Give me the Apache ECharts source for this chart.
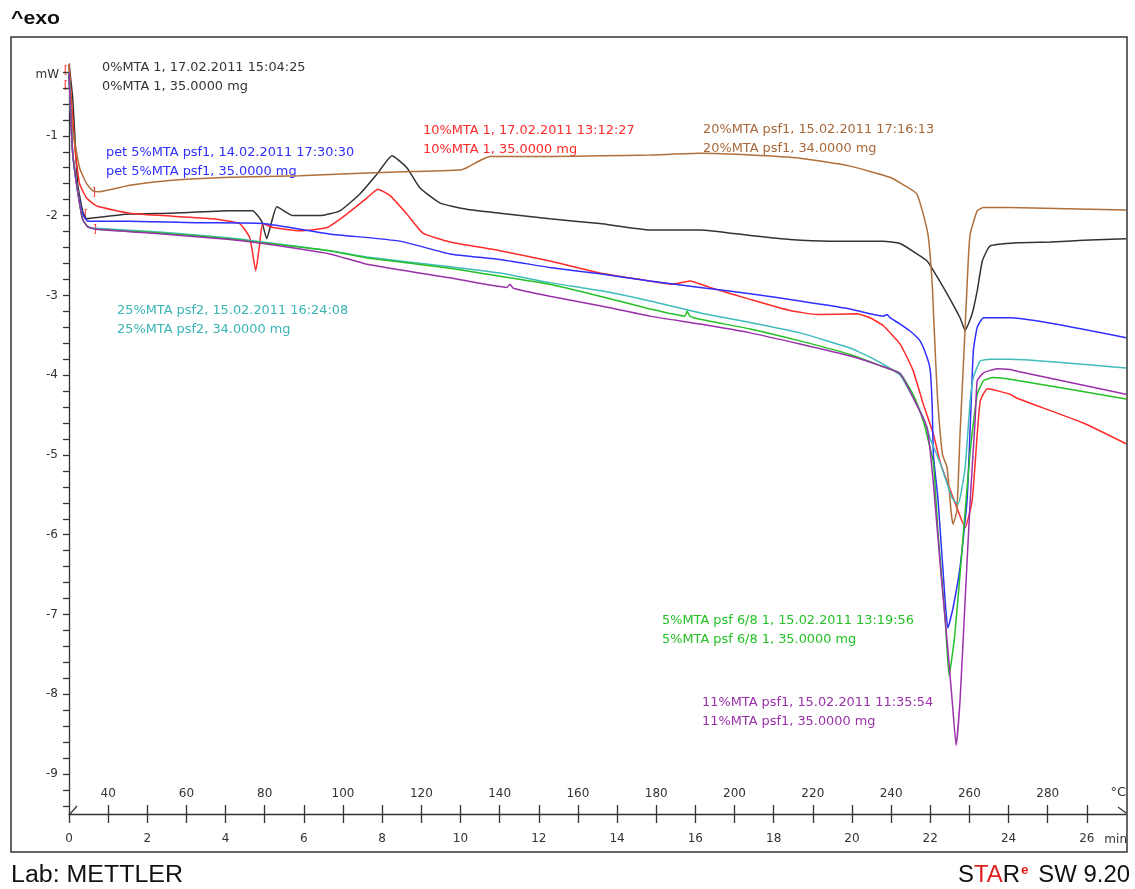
<!DOCTYPE html>
<html><head><meta charset="utf-8">
<script src="https://cdn.jsdelivr.net/npm/echarts@6/dist/echarts.min.js"></script>
<style>html,body{margin:0;padding:0;background:#fff}#c{width:1135px;height:889px}</style>
</head><body><div id="c"></div><script>
// ---- data: [time (min), heat flow (mW)] ----
const black0 = [[0,-0.1],[0.09,-0.5],[0.15,-1.0],[0.22,-1.6],[0.35,-1.95],[0.45,-2.04],[0.6,-2.03],[1.55,-1.98],[2.57,-1.97],[4.11,-1.94],[4.69,-1.94],[4.92,-2.07],[5.05,-2.29],[5.18,-2.07],[5.31,-1.89],[5.72,-2.0],[6.41,-2.0],[6.92,-1.94],[7.43,-1.73],[7.87,-1.48],[8.25,-1.25],[8.63,-1.40],[8.96,-1.65],[9.47,-1.84],[10.16,-1.92],[11.01,-1.97],[12.28,-2.04],[13.56,-2.10],[14.84,-2.18],[16.12,-2.18],[17.40,-2.25],[18.42,-2.30],[19.44,-2.32],[20.80,-2.32],[21.23,-2.35],[21.66,-2.48],[21.92,-2.57],[22.08,-2.69],[22.43,-2.98],[22.76,-3.28],[22.89,-3.44],[23.07,-3.23],[23.20,-2.94],[23.33,-2.57],[23.53,-2.38],[24.22,-2.34],[25.07,-2.33],[25.91,-2.31],[27,-2.29]];
const red10 = [[0,-0.1],[0.15,-1.15],[0.27,-1.6],[0.45,-1.78],[0.71,-1.88],[1.55,-1.97],[2.39,-2.0],[3.67,-2.04],[4.36,-2.10],[4.62,-2.28],[4.77,-2.69],[4.87,-2.36],[4.95,-2.10],[5.21,-2.15],[5.90,-2.19],[6.59,-2.15],[7.10,-1.98],[7.61,-1.78],[7.89,-1.67],[8.20,-1.75],[8.63,-1.98],[9.04,-2.22],[9.73,-2.33],[11.01,-2.44],[12.28,-2.57],[13.56,-2.72],[14.84,-2.82],[15.43,-2.86],[15.86,-2.82],[16.37,-2.90],[17.40,-3.05],[18.42,-3.19],[19.11,-3.24],[20.13,-3.23],[20.46,-3.28],[20.80,-3.38],[21.23,-3.61],[21.56,-3.94],[21.82,-4.36],[22.08,-4.74],[22.26,-5.10],[22.68,-5.66],[22.89,-5.91],[23.07,-5.57],[23.20,-4.74],[23.28,-4.32],[23.46,-4.17],[24.04,-4.24],[24.22,-4.29],[25.91,-4.60],[27,-4.86]];
const blue5 = [[0,-0.2],[0.09,-1.19],[0.22,-1.69],[0.35,-1.98],[0.48,-2.07],[1.55,-2.07],[3.34,-2.09],[4.95,-2.10],[6.66,-2.23],[8.45,-2.32],[9.73,-2.48],[11.01,-2.55],[12.28,-2.65],[13.56,-2.73],[14.84,-2.82],[16.12,-2.90],[17.40,-2.98],[18.67,-3.07],[19.95,-3.17],[20.80,-3.26],[20.90,-3.24],[20.97,-3.28],[21.23,-3.36],[21.49,-3.45],[21.74,-3.57],[21.92,-3.78],[22.0,-3.94],[22.05,-4.40],[22.08,-5.0],[22.20,-5.57],[22.38,-6.83],[22.45,-7.17],[22.58,-6.92],[22.76,-6.41],[22.94,-5.57],[23.02,-4.66],[23.10,-3.70],[23.20,-3.40],[23.36,-3.28],[24.04,-3.28],[27,-3.53]];
const green5 = [[0,-0.2],[0.09,-1.19],[0.22,-1.69],[0.35,-2.05],[0.48,-2.14],[0.71,-2.17],[2.39,-2.22],[4.11,-2.29],[4.95,-2.34],[6.66,-2.44],[7.61,-2.53],[9.73,-2.66],[11.01,-2.76],[12.28,-2.86],[13.56,-3.01],[14.84,-3.17],[15.73,-3.26],[15.79,-3.20],[15.86,-3.26],[16.12,-3.30],[17.40,-3.42],[18.67,-3.57],[19.95,-3.74],[20.72,-3.88],[21.23,-3.98],[21.56,-4.24],[21.82,-4.57],[21.94,-4.80],[22.08,-5.10],[22.20,-5.99],[22.38,-7.04],[22.48,-7.77],[22.63,-7.24],[22.81,-6.20],[23.02,-4.95],[23.20,-4.24],[23.36,-4.07],[23.61,-4.03],[24.04,-4.05],[27,-4.30]];
const cyan25 = [[0,-0.2],[0.09,-1.19],[0.22,-1.69],[0.35,-2.05],[0.48,-2.14],[0.71,-2.16],[2.39,-2.21],[4.11,-2.28],[4.95,-2.33],[6.66,-2.44],[7.61,-2.52],[9.73,-2.64],[11.01,-2.72],[12.28,-2.84],[13.56,-2.94],[14.84,-3.07],[16.12,-3.22],[17.40,-3.34],[18.67,-3.47],[19.95,-3.66],[20.64,-3.82],[21.23,-4.0],[21.56,-4.28],[21.82,-4.53],[22.0,-4.80],[22.26,-5.11],[22.56,-5.54],[22.71,-5.62],[22.89,-5.16],[23.02,-4.32],[23.10,-4.03],[23.28,-3.82],[23.53,-3.80],[24.04,-3.80],[27,-3.91]];
const purple11 = [[0,-0.2],[0.09,-1.19],[0.22,-1.69],[0.35,-2.05],[0.48,-2.14],[0.71,-2.17],[2.39,-2.23],[4.11,-2.30],[4.95,-2.35],[6.66,-2.48],[7.61,-2.61],[9.73,-2.78],[11.19,-2.90],[11.26,-2.86],[11.35,-2.91],[12.28,-3.01],[13.56,-3.13],[14.84,-3.26],[16.12,-3.36],[17.40,-3.47],[18.67,-3.61],[19.95,-3.76],[20.72,-3.88],[21.23,-3.98],[21.56,-4.28],[21.92,-4.66],[22.08,-5.36],[22.26,-6.41],[22.43,-7.33],[22.56,-8.08],[22.66,-8.64],[22.76,-8.08],[22.89,-6.83],[23.02,-5.57],[23.15,-4.53],[23.20,-4.07],[23.36,-3.97],[23.71,-3.92],[24.04,-3.93],[24.22,-3.95],[27,-4.24]];
const brown20 = [[0,-0.1],[0.09,-0.9],[0.27,-1.4],[0.45,-1.6],[0.61,-1.69],[0.78,-1.70],[1.55,-1.62],[2.57,-1.56],[4.11,-1.52],[5.9,-1.50],[8.0,-1.46],[9.98,-1.43],[10.16,-1.40],[10.5,-1.31],[10.75,-1.26],[11.01,-1.26],[12.28,-1.26],[13.56,-1.25],[14.84,-1.24],[16.12,-1.22],[17.40,-1.24],[18.67,-1.28],[19.95,-1.38],[20.97,-1.52],[21.23,-1.59],[21.66,-1.73],[21.94,-2.23],[22.05,-2.86],[22.10,-3.41],[22.18,-4.24],[22.31,-4.99],[22.43,-5.16],[22.53,-5.70],[22.58,-5.87],[22.68,-5.70],[22.76,-4.74],[22.81,-4.24],[22.89,-3.41],[22.97,-2.57],[23.02,-2.23],[23.20,-1.94],[23.36,-1.90],[24.04,-1.90],[27,-1.93]];

const seriesNames = ['0%MTA 1','10%MTA 1','pet 5%MTA psf1','20%MTA psf1','25%MTA psf2','5%MTA psf 6/8 1','11%MTA psf1'];
const seriesData = [black0, red10, blue5, brown20, cyan25, green5, purple11];
const seriesColors = ['#333333','#ff2a2a','#2f2fff','#b0703c','#40bcbc','#25c025','#9a30aa'];

// tick labels
const yLabels = [-1,-2,-3,-4,-5,-6,-7,-8,-9];
const timeLabels = [0,2,4,6,8,10,12,14,16,18,20,22,24,26];
const tempLabels = [40,60,80,100,120,140,160,180,200,220,240,260,280];
const timeTicks = [0,1,2,3,4,5,6,7,8,9,10,11,12,13,14,15,16,17,18,19,20,21,22,23,24,25,26];
const tempTicks = [40,50,60,70,80,90,100,110,120,130,140,150,160,170,180,190,200,210,220,230,240,250,260,270,280,290];
const yTicks = [];
for (let k = -47; k <= -1; k++) yTicks.push(Math.round(k * 2) / 10);

// annotation texts
const annotations = [
  {c:'#333333', x:102, y:68, t:['0%MTA 1, 17.02.2011 15:04:25','0%MTA 1, 35.0000 mg']},
  {c:'#2f2fff', x:106, y:153, t:['pet 5%MTA psf1, 14.02.2011 17:30:30','pet 5%MTA psf1, 35.0000 mg']},
  {c:'#ff2a2a', x:423, y:131, t:['10%MTA 1, 17.02.2011 13:12:27','10%MTA 1, 35.0000 mg']},
  {c:'#a8683a', x:703, y:130, t:['20%MTA psf1, 15.02.2011 17:16:13','20%MTA psf1, 34.0000 mg']},
  {c:'#3ab5b5', x:117, y:311, t:['25%MTA psf2, 15.02.2011 16:24:08','25%MTA psf2, 34.0000 mg']},
  {c:'#25c025', x:662, y:621, t:['5%MTA psf 6/8 1, 15.02.2011 13:19:56','5%MTA psf 6/8 1, 35.0000 mg']},
  {c:'#9a30aa', x:702, y:703, t:['11%MTA psf1, 15.02.2011 11:35:54','11%MTA psf1, 35.0000 mg']}
];

const FONT = 'DejaVu Sans';
const graphics = [
  {type:'rect', shape:{x:11,y:37,width:1116,height:815}, style:{fill:'none', stroke:'#333', lineWidth:1.5}, silent:true},
  {type:'text', x:11, y:19, scaleX:1.12, style:{text:'^exo', font:'bold 19px "Liberation Sans"', fill:'#111', textVerticalAlign:'middle'}},
  {type:'text', x:59, y:75, style:{text:'mW', font:'12px "DejaVu Sans"', fill:'#333', textAlign:'right', textVerticalAlign:'middle'}},
  {type:'text', x:1126, y:793, style:{text:'°C', font:'13px "DejaVu Sans"', fill:'#333', textAlign:'right', textVerticalAlign:'middle'}},
  {type:'text', x:1127, y:840, style:{text:'min', font:'12px "DejaVu Sans"', fill:'#333', textAlign:'right', textVerticalAlign:'middle'}},
  {type:'polyline', shape:{points:[[70,814],[77,806]]}, style:{stroke:'#333', lineWidth:1.2}},
  {type:'polyline', shape:{points:[[1118,807],[1126,813]]}, style:{stroke:'#333', lineWidth:1.2}},
  {type:'text', x:11, y:876, scaleX:1.085, style:{text:'Lab: METTLER', font:'23px "Liberation Sans"', fill:'#111', textVerticalAlign:'middle'}},
  {type:'text', x:1130, y:876, scaleX:1.04, style:{
    text:'{a|S}{b|TA}{a|R}{s|e}{a| SW 9.20}', textAlign:'right', textVerticalAlign:'middle',
    rich:{
      a:{font:'23px "Liberation Sans"', fill:'#111'},
      b:{font:'23px "Liberation Sans"', fill:'#e02020'},
      s:{font:'bold 13px "Liberation Sans"', fill:'#e02020', padding:[0,3,12,1]}
    }}},
  // red evaluation-limit brackets near the start
  {type:'text', x:66, y:70, style:{text:'[', font:'11px "DejaVu Sans"', fill:'#ff2a2a', textAlign:'center', textVerticalAlign:'middle'}},
  {type:'text', x:66, y:85, style:{text:'[', font:'11px "DejaVu Sans"', fill:'#ff2a2a', textAlign:'center', textVerticalAlign:'middle'}},
  {type:'text', x:94, y:192, style:{text:']', font:'11px "DejaVu Sans"', fill:'#ff2a2a', textAlign:'center', textVerticalAlign:'middle'}},
  {type:'text', x:86, y:214, style:{text:'[', font:'11px "DejaVu Sans"', fill:'#ff2a2a', textAlign:'center', textVerticalAlign:'middle'}},
  {type:'text', x:95, y:229, style:{text:']', font:'11px "DejaVu Sans"', fill:'#ff2a2a', textAlign:'center', textVerticalAlign:'middle'}}
];
annotations.forEach(a => {
  a.t.forEach((line, i) => {
    graphics.push({type:'text', x:a.x, y:a.y + i * 19, style:{text:line, font:'12.9px "DejaVu Sans"', fill:a.c, textVerticalAlign:'middle'}});
  });
});

const chart = echarts.init(document.getElementById('c'), null, {renderer:'canvas'});
chart.setOption({
  animation:false,
  backgroundColor:'#fff',
  grid:{left:69, right:9, top:64, bottom:75},
  xAxis:[
    {type:'value', min:0, max:27, position:'bottom',
     axisLine:{lineStyle:{color:'#333', width:1.3}},
     axisTick:{customValues:timeTicks, length:9, lineStyle:{color:'#333', width:1.3}},
     axisLabel:{customValues:timeLabels, margin:19, color:'#333', fontFamily:FONT, fontSize:12},
     splitLine:{show:false}},
    {type:'value', min:30, max:300, position:'bottom',
     axisLine:{show:false},
     axisTick:{customValues:tempTicks, inside:true, length:9, lineStyle:{color:'#333', width:1.3}},
     axisLabel:{customValues:tempLabels, inside:true, margin:14, color:'#333', fontFamily:FONT, fontSize:12},
     splitLine:{show:false}}
  ],
  yAxis:{type:'value', min:-9.5, max:-0.1,
    axisLine:{show:true, lineStyle:{color:'#333', width:1.3}},
    axisTick:{show:true, customValues:yTicks, length:6, lineStyle:{color:'#333', width:1.3}},
    axisLabel:{customValues:yLabels, margin:11, color:'#333', fontFamily:FONT, fontSize:12},
    splitLine:{show:false}},
  graphic:graphics,
  series: seriesData.map((d, i) => ({
    name: seriesNames[i], type:'line', xAxisIndex:0, yAxisIndex:0, data:d,
    showSymbol:false, smooth:0.15, clip:true,
    lineStyle:{color:seriesColors[i], width:1.5},
    itemStyle:{color:seriesColors[i]}, z: 2
  }))
});
</script></body></html>
